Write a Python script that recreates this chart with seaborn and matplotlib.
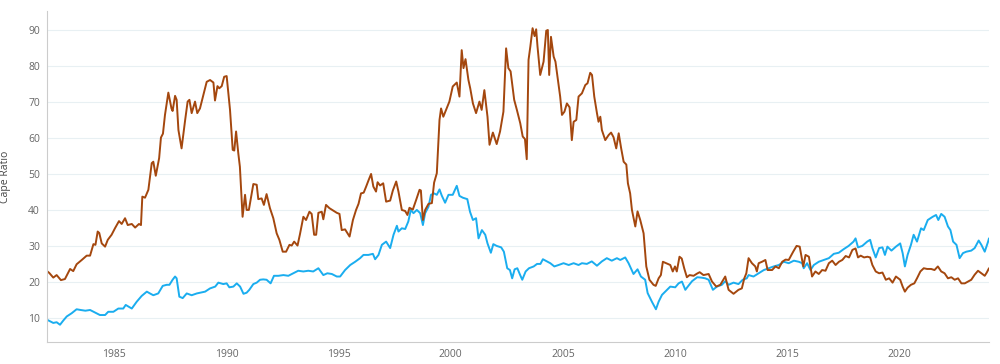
import pandas as pd
import seaborn as sns
import matplotlib.pyplot as plt

## ---- data (decimal years, CAPE ratio) ----
brown_years = [1982.00, 1982.10, 1982.28, 1982.43, 1982.62, 1982.80, 1983.03, 1983.17, 1983.32, 1983.55,
               1983.77, 1983.92, 1984.07, 1984.16, 1984.26, 1984.33, 1984.44, 1984.59, 1984.71, 1984.88,
               1985.03, 1985.21, 1985.33, 1985.48, 1985.60, 1985.78, 1985.93, 1986.10, 1986.19, 1986.25,
               1986.37, 1986.52, 1986.67, 1986.74, 1986.85, 1987.00, 1987.08, 1987.17, 1987.26, 1987.41,
               1987.55, 1987.60, 1987.71, 1987.78, 1987.86, 1988.00, 1988.16, 1988.27, 1988.35, 1988.45,
               1988.60, 1988.70, 1988.82, 1988.97, 1989.12, 1989.27, 1989.42, 1989.49, 1989.60, 1989.68,
               1989.79, 1989.90, 1990.01, 1990.16, 1990.28, 1990.35, 1990.43, 1990.53, 1990.60, 1990.72,
               1990.83, 1990.90, 1991.00, 1991.20, 1991.35, 1991.42, 1991.57, 1991.67, 1991.79, 1991.94,
               1992.09, 1992.24, 1992.36, 1992.51, 1992.66, 1992.81, 1992.91, 1993.02, 1993.17, 1993.28,
               1993.43, 1993.55, 1993.70, 1993.80, 1993.91, 1994.00, 1994.10, 1994.25, 1994.32, 1994.44,
               1994.59, 1994.77, 1994.92, 1995.04, 1995.14, 1995.29, 1995.49, 1995.64, 1995.78, 1995.89,
               1996.00, 1996.12, 1996.23, 1996.34, 1996.45, 1996.55, 1996.67, 1996.74, 1996.85, 1996.99,
               1997.12, 1997.30, 1997.42, 1997.57, 1997.67, 1997.82, 1997.97, 1998.07, 1998.16, 1998.31,
               1998.46, 1998.61, 1998.67, 1998.76, 1998.86, 1999.01, 1999.16, 1999.26, 1999.38, 1999.50,
               1999.57, 1999.67, 1999.82, 1999.94, 2000.09, 2000.27, 2000.39, 2000.49, 2000.57, 2000.66,
               2000.79, 2000.87, 2000.99, 2001.13, 2001.28, 2001.38, 2001.50, 2001.64, 2001.73, 2001.88,
               2002.05, 2002.20, 2002.35, 2002.47, 2002.57, 2002.67, 2002.83, 2002.95, 2003.10, 2003.21,
               2003.31, 2003.39, 2003.47, 2003.55, 2003.65, 2003.74, 2003.81, 2003.87, 2003.99, 2004.14,
               2004.26, 2004.33, 2004.39, 2004.47, 2004.59, 2004.67, 2004.81, 2004.88, 2004.96, 2005.07,
               2005.18, 2005.30, 2005.40, 2005.48, 2005.60, 2005.70, 2005.85, 2006.00, 2006.10, 2006.22,
               2006.30, 2006.40, 2006.52, 2006.59, 2006.67, 2006.74, 2006.89, 2007.04, 2007.15, 2007.26,
               2007.38, 2007.49, 2007.60, 2007.71, 2007.83, 2007.90, 2008.00, 2008.08, 2008.23, 2008.33,
               2008.45, 2008.60, 2008.72, 2008.86, 2009.04, 2009.14, 2009.27, 2009.37, 2009.46, 2009.61,
               2009.79, 2009.90, 2010.00, 2010.08, 2010.20, 2010.30, 2010.41, 2010.53, 2010.65, 2010.83,
               2010.98, 2011.10, 2011.27, 2011.50, 2011.65, 2011.84, 2012.02, 2012.24, 2012.39, 2012.61,
               2012.83, 2012.98, 2013.09, 2013.18, 2013.28, 2013.43, 2013.58, 2013.65, 2013.73, 2013.88,
               2014.03, 2014.13, 2014.33, 2014.48, 2014.63, 2014.78, 2014.93, 2015.07, 2015.27, 2015.42,
               2015.56, 2015.72, 2015.82, 2015.97, 2016.11, 2016.26, 2016.41, 2016.56, 2016.71, 2016.86,
               2017.01, 2017.16, 2017.31, 2017.46, 2017.61, 2017.76, 2017.91, 2018.05, 2018.16, 2018.28,
               2018.43, 2018.58, 2018.70, 2018.80, 2018.95, 2019.10, 2019.25, 2019.40, 2019.55, 2019.70,
               2019.85, 2020.04, 2020.15, 2020.25, 2020.37, 2020.52, 2020.67, 2020.79, 2020.94, 2021.09,
               2021.24, 2021.42, 2021.57, 2021.72, 2021.87, 2022.02, 2022.17, 2022.32, 2022.47, 2022.62,
               2022.77, 2022.92, 2023.07, 2023.21, 2023.36, 2023.51, 2023.66, 2023.81, 2023.90, 2024.00]
brown_cape = [23.0, 22.5, 21.2, 21.9, 20.5, 20.8, 23.6, 23.0, 24.9, 26.1,
              27.3, 27.3, 30.5, 30.3, 34.0, 33.6, 30.7, 29.8, 31.7, 33.1,
              34.9, 36.9, 36.1, 37.7, 35.8, 36.1, 35.1, 36.1, 35.8, 43.7,
              43.4, 45.6, 53.0, 53.4, 49.5, 54.4, 60.1, 61.2, 66.4, 72.6,
              68.2, 67.5, 71.7, 70.6, 62.2, 57.1, 65.0, 70.1, 70.6, 66.9,
              70.1, 66.9, 68.2, 71.9, 75.6, 76.1, 75.4, 70.4, 74.4, 73.8,
              74.4, 77.0, 77.2, 67.8, 56.7, 56.5, 61.8, 55.7, 52.0, 38.1,
              44.2, 40.0, 40.0, 47.2, 47.0, 43.0, 43.2, 41.4, 44.4, 40.5,
              37.7, 33.5, 31.7, 28.4, 28.4, 30.3, 30.1, 31.2, 30.1, 33.3,
              38.1, 37.2, 39.5, 38.9, 33.1, 33.1, 39.2, 39.5, 37.4, 41.4,
              40.5, 39.8, 39.2, 38.9, 34.4, 34.6, 32.6, 37.2, 40.0, 41.7,
              44.6, 44.8, 46.5, 48.3, 50.0, 46.5, 45.1, 47.7, 46.8, 47.4,
              42.3, 42.6, 45.4, 47.9, 45.1, 40.0, 39.7, 38.6, 40.6, 40.1,
              42.8, 45.6, 45.4, 37.2, 40.0, 41.7, 41.9, 47.6, 50.2, 65.0,
              68.2, 65.9, 68.2, 70.1, 74.3, 75.4, 71.5, 84.4, 79.4, 81.9,
              76.1, 73.8, 69.6, 66.9, 70.1, 67.8, 73.3, 65.9, 58.1, 61.5,
              58.3, 61.8, 67.3, 84.9, 79.4, 78.5, 70.6, 67.8, 64.1, 60.4,
              59.7, 54.1, 81.7, 85.4, 90.5, 88.3, 90.2, 85.4, 77.5, 81.2,
              89.8, 90.0, 77.5, 88.1, 82.6, 81.2, 74.7, 71.5, 66.4, 67.3,
              69.6, 68.5, 59.4, 64.5, 65.0, 71.5, 72.4, 74.7, 75.2, 78.1,
              77.5, 71.5, 66.9, 64.5, 65.9, 62.2, 59.4, 60.8, 61.5, 60.2,
              57.1, 61.3, 57.1, 53.4, 52.6, 47.4, 44.6, 40.0, 35.4, 39.6,
              37.2, 33.5, 24.3, 20.6, 19.2, 18.9, 21.0, 21.9, 25.6, 25.2,
              24.7, 22.9, 24.3, 22.9, 27.0, 26.5, 23.8, 21.3, 21.9, 21.7,
              22.3, 22.7, 21.9, 22.2, 20.1, 18.7, 19.2, 21.5, 17.8, 16.7,
              17.8, 18.2, 21.0, 22.4, 26.6, 25.2, 24.3, 22.9, 25.2, 25.6,
              26.1, 23.3, 23.3, 24.3, 23.8, 25.6, 26.2, 26.1, 28.4, 30.0,
              29.8, 24.3, 27.5, 27.0, 21.5, 22.9, 22.2, 23.3, 23.1, 25.2,
              25.9, 24.7, 25.6, 26.1, 27.2, 26.8, 28.9, 29.3, 26.8, 27.3,
              26.8, 27.0, 26.8, 24.7, 22.9, 22.4, 22.6, 20.6, 21.0, 19.8,
              21.5, 20.6, 18.7, 17.3, 18.4, 19.2, 19.6, 21.0, 22.9, 23.8,
              23.6, 23.6, 23.3, 24.3, 22.9, 22.4, 21.0, 21.3, 20.6, 21.0,
              19.6, 19.6, 20.1, 20.6, 22.0, 23.1, 22.4, 21.7, 22.6, 23.8]

blue_years = [1982.00, 1982.06, 1982.28, 1982.43, 1982.58, 1982.73, 1982.88, 1983.10, 1983.32, 1983.50,
              1983.71, 1983.92, 1984.14, 1984.36, 1984.59, 1984.73, 1984.96, 1985.18, 1985.40, 1985.51,
              1985.78, 1986.00, 1986.22, 1986.45, 1986.59, 1986.74, 1986.96, 1987.16, 1987.34, 1987.46,
              1987.60, 1987.71, 1987.78, 1987.90, 1988.05, 1988.23, 1988.45, 1988.68, 1988.82, 1989.05,
              1989.27, 1989.50, 1989.64, 1989.86, 1990.01, 1990.13, 1990.31, 1990.46, 1990.61, 1990.76,
              1990.90, 1991.02, 1991.20, 1991.35, 1991.50, 1991.64, 1991.79, 1991.97, 1992.12, 1992.32,
              1992.54, 1992.76, 1992.98, 1993.20, 1993.43, 1993.65, 1993.87, 1994.10, 1994.32, 1994.50,
              1994.70, 1994.92, 1995.07, 1995.29, 1995.52, 1995.74, 1995.96, 1996.11, 1996.33, 1996.53,
              1996.63, 1996.78, 1996.93, 1997.12, 1997.30, 1997.45, 1997.60, 1997.67, 1997.82, 1997.97,
              1998.11, 1998.22, 1998.34, 1998.49, 1998.64, 1998.76, 1998.86, 1999.01, 1999.12, 1999.26,
              1999.38, 1999.50, 1999.60, 1999.75, 1999.90, 2000.09, 2000.27, 2000.39, 2000.54, 2000.74,
              2000.86, 2000.99, 2001.13, 2001.24, 2001.39, 2001.54, 2001.64, 2001.79, 2001.90, 2002.05,
              2002.25, 2002.37, 2002.52, 2002.64, 2002.74, 2002.85, 2002.97, 2003.09, 2003.19, 2003.34,
              2003.49, 2003.70, 2003.85, 2004.00, 2004.11, 2004.29, 2004.44, 2004.62, 2004.81, 2005.03,
              2005.26, 2005.48, 2005.70, 2005.85, 2006.07, 2006.29, 2006.52, 2006.74, 2006.96, 2007.18,
              2007.41, 2007.56, 2007.78, 2007.93, 2008.15, 2008.33, 2008.48, 2008.67, 2008.78, 2008.97,
              2009.15, 2009.27, 2009.42, 2009.61, 2009.79, 2010.01, 2010.16, 2010.31, 2010.46, 2010.57,
              2010.76, 2010.99, 2011.17, 2011.35, 2011.50, 2011.69, 2011.87, 2012.09, 2012.24, 2012.39,
              2012.61, 2012.83, 2013.02, 2013.20, 2013.28, 2013.50, 2013.73, 2013.96, 2014.18, 2014.40,
              2014.63, 2014.85, 2015.07, 2015.30, 2015.52, 2015.67, 2015.74, 2015.89, 2016.04, 2016.19,
              2016.41, 2016.63, 2016.86, 2017.08, 2017.30, 2017.52, 2017.74, 2017.96, 2018.05, 2018.16,
              2018.35, 2018.57, 2018.70, 2018.80, 2018.95, 2019.10, 2019.25, 2019.36, 2019.47, 2019.65,
              2019.85, 2020.04, 2020.15, 2020.25, 2020.37, 2020.52, 2020.64, 2020.79, 2020.97, 2021.09,
              2021.27, 2021.49, 2021.64, 2021.74, 2021.87, 2022.02, 2022.17, 2022.28, 2022.40, 2022.55,
              2022.69, 2022.84, 2022.99, 2023.21, 2023.36, 2023.54, 2023.66, 2023.81, 2023.96, 2024.00]
blue_cape = [9.5, 9.3, 8.6, 8.8, 8.1, 9.3, 10.4, 11.3, 12.4, 12.2,
             12.0, 12.2, 11.5, 10.8, 10.8, 11.7, 11.7, 12.6, 12.6, 13.6,
             12.6, 14.5, 16.1, 17.3, 16.8, 16.3, 16.8, 18.9, 19.2, 19.2,
             20.6, 21.5, 21.0, 15.9, 15.5, 16.8, 16.3, 16.8, 17.0, 17.3,
             18.2, 18.7, 19.8, 19.4, 19.6, 18.5, 18.7, 19.6, 18.7, 16.7,
             17.0, 17.8, 19.4, 19.8, 20.6, 20.7, 20.6, 19.6, 21.7, 21.7,
             21.9, 21.7, 22.4, 23.1, 22.9, 23.1, 22.9, 23.8, 21.9, 22.4,
             22.2, 21.5, 21.5, 23.3, 24.7, 25.6, 26.6, 27.5, 27.5, 27.8,
             26.3, 27.5, 30.3, 31.2, 29.4, 33.1, 35.6, 34.0, 34.9, 34.7,
             36.8, 40.0, 39.1, 40.0, 39.1, 35.8, 39.1, 40.9, 44.2, 44.6,
             44.2, 45.7, 44.0, 42.0, 44.2, 44.2, 46.7, 43.9, 43.4, 43.0,
             39.5, 37.2, 37.7, 32.1, 34.4, 33.1, 30.7, 28.1, 30.5, 30.0,
             29.6, 28.4, 23.8, 23.3, 21.0, 23.5, 23.8, 22.0, 20.6, 22.9,
             23.8, 24.3, 25.0, 25.0, 26.3, 25.7, 25.2, 24.3, 24.7, 25.2,
             24.7, 25.2, 24.7, 25.2, 25.0, 25.7, 24.5, 25.7, 26.6, 25.9,
             26.6, 26.1, 26.8, 25.2, 22.2, 23.5, 21.5, 20.6, 16.9, 14.5,
             12.4, 14.5, 16.4, 17.6, 18.7, 18.5, 19.6, 20.1, 17.8, 18.7,
             20.2, 21.3, 21.2, 21.0, 20.6, 17.8, 18.7, 19.2, 20.2, 19.2,
             19.8, 19.4, 20.6, 21.0, 21.9, 21.5, 22.4, 23.3, 23.8, 24.3,
             24.7, 25.6, 25.2, 25.9, 25.6, 25.2, 23.8, 25.2, 23.3, 24.7,
             25.6, 26.1, 26.6, 27.8, 28.1, 29.1, 30.0, 31.2, 32.1, 29.6,
             30.0, 31.2, 31.7, 29.4, 26.8, 29.4, 29.6, 27.5, 29.8, 28.7,
             29.8, 30.7, 28.0, 24.3, 27.5, 30.3, 33.1, 31.2, 34.9, 34.4,
             37.2, 38.1, 38.6, 37.2, 38.9, 38.1, 35.4, 34.4, 31.2, 30.3,
             26.6, 28.0, 28.4, 28.7, 29.4, 31.5, 30.3, 28.4, 31.2, 32.1]

y_ticks = [10, 20, 30, 40, 50, 60, 70, 80, 90]
x_ticks = [1985, 1990, 1995, 2000, 2005, 2010, 2015, 2020]
x_labels = [str(y) for y in x_ticks]

df_brown = pd.DataFrame({"year": brown_years, "cape": brown_cape})
df_blue = pd.DataFrame({"year": blue_years, "cape": blue_cape})

sns.set_theme(style="white")
plt.rcParams['font.family'] = ['Open Sans', 'DejaVu Sans']

fig = plt.figure(figsize=(10, 3.64), dpi=100)
ax = fig.add_axes([0.047, 0.0604, 0.942, 0.9096])

sns.lineplot(data=df_blue, x="year", y="cape", ax=ax, color="#1AADEF", linewidth=1.4)
sns.lineplot(data=df_brown, x="year", y="cape", ax=ax, color="#A4470E", linewidth=1.4)

ax.set_xlim(1982.0, 2024.0)
ax.set_ylim(3.3, 95.3)
ax.set_yticks(y_ticks)
ax.set_xticks(x_ticks)
ax.set_xticklabels(x_labels)
ax.grid(axis="y", color="#E8F0F3", linewidth=0.8)
ax.set_axisbelow(True)
ax.tick_params(axis="both", length=0, labelsize=7.5, colors="#666666", pad=5)
ax.set_xlabel("")
ax.set_ylabel("Cape Ratio", fontsize=7.5, color="#444444")
ax.yaxis.set_label_coords(-0.038, 0.5)

for side in ["top", "right"]:
    ax.spines[side].set_visible(False)
for side in ["left", "bottom"]:
    ax.spines[side].set_color("#CCCCCC")
    ax.spines[side].set_linewidth(0.8)

fig.savefig("out.png", dpi=100)
